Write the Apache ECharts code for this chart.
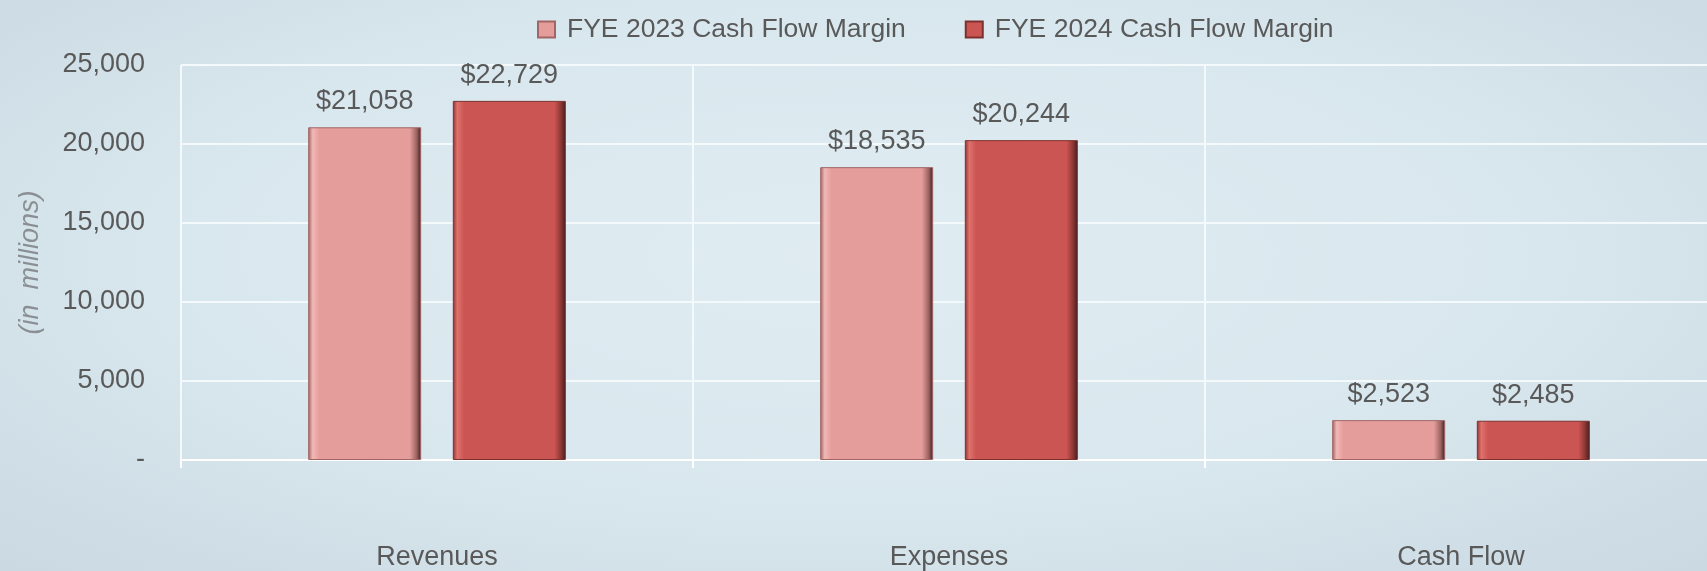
<!DOCTYPE html>
<html>
<head>
<meta charset="utf-8">
<script src="https://cdn.jsdelivr.net/npm/echarts@6/dist/echarts.min.js"></script>
<style>
  html, body { margin: 0; padding: 0; }
  #chartContainer {
    width: 1707px;
    height: 571px;
    background: radial-gradient(ellipse at 50% 45%, #e0ecf2 0%, #d9e7ee 55%, #cad9e2 100%);
  }
</style>
</head>
<body>
<div id="chartContainer"></div>
<script>
var categories = ["Revenues", "Expenses", "Cash Flow"];
var fye2023 = [21058, 18535, 2523]; // FYE 2023
var fye2024 = [22729, 20244, 2485]; // FYE 2024
var seriesNames = ["FYE 2023 Cash Flow Margin", "FYE 2024 Cash Flow Margin"];
var yTicks = { min: 0, max: 25000, interval: 5000 };

var fontName = "'Liberation Sans', Arial, sans-serif";
var textColor = "#595959";

// 立体感的柱子：左亮右暗
function barFill(light, base, dark) {
  return new echarts.graphic.LinearGradient(0, 0, 1, 0, [
    { offset: 0, color: dark },
    { offset: 0.04, color: light },
    { offset: 0.1, color: base },
    { offset: 0.9, color: base },
    { offset: 0.96, color: dark },
    { offset: 1, color: "#3a1f1f" }
  ]);
}

function money(p) {
  return "$" + p.value.toLocaleString("en-US");
}

var chart = echarts.init(document.getElementById("chartContainer"));

var option = {
  backgroundColor: "transparent",
  textStyle: { fontFamily: fontName },
  legend: {
    left: 532,
    top: 11,
    itemWidth: 17,
    itemHeight: 16,
    itemGap: 59,
    icon: "rect",
    textStyle: { fontSize: 26.5, color: textColor, fontFamily: fontName, padding: [0, 0, 0, 7] },
    data: seriesNames
  },
  grid: {
    left: 181,
    right: -10,
    top: 65,
    bottom: 111,
    outerBoundsMode: "none"
  },
  xAxis: {
    type: "category",
    data: categories,
    axisLine: { lineStyle: { color: "#ffffff", width: 2 } },
    axisTick: { show: true, length: 8, lineStyle: { color: "#ffffff", width: 2 } },
    axisLabel: { margin: 84, fontSize: 27, color: textColor, fontFamily: fontName },
    splitLine: { show: true, lineStyle: { color: "#f4f9fb", width: 2 } }
  },
  yAxis: {
    type: "value",
    min: yTicks.min,
    max: yTicks.max,
    interval: yTicks.interval,
    name: "(in  millions)",
    nameLocation: "middle",
    nameGap: 137,
    nameTextStyle: { fontSize: 27, fontStyle: "italic", color: "#8a8f93", fontFamily: fontName },
    axisLine: { show: false },
    axisTick: { show: false },
    axisLabel: {
      margin: 36,
      fontSize: 27,
      color: textColor,
      fontFamily: fontName,
      formatter: function (v) {
        return v === 0 ? "-" : v.toLocaleString("en-US");
      }
    },
    splitLine: { show: true, lineStyle: { color: "#f4f9fb", width: 2 } }
  },
  series: [
    {
      name: seriesNames[0],
      type: "bar",
      data: fye2023,
      barWidth: 113,
      barGap: "28%",
      color: "#e59d9b",
      itemStyle: {
        color: barFill("#f2b8b5", "#e59d9b", "#9c6362"),
        borderColor: "#a06665",
        borderWidth: 1
      },
      label: {
        show: true,
        position: "top",
        distance: 12,
        fontSize: 27,
        color: textColor,
        fontFamily: fontName,
        formatter: money
      }
    },
    {
      name: seriesNames[1],
      type: "bar",
      data: fye2024,
      barWidth: 113,
      color: "#cb5552",
      itemStyle: {
        color: barFill("#e0716d", "#cb5552", "#8a3432"),
        borderColor: "#7d302e",
        borderWidth: 1
      },
      label: {
        show: true,
        position: "top",
        distance: 12,
        fontSize: 27,
        color: textColor,
        fontFamily: fontName,
        formatter: money
      }
    }
  ]
};

chart.setOption(option);
</script>
</body>
</html>
